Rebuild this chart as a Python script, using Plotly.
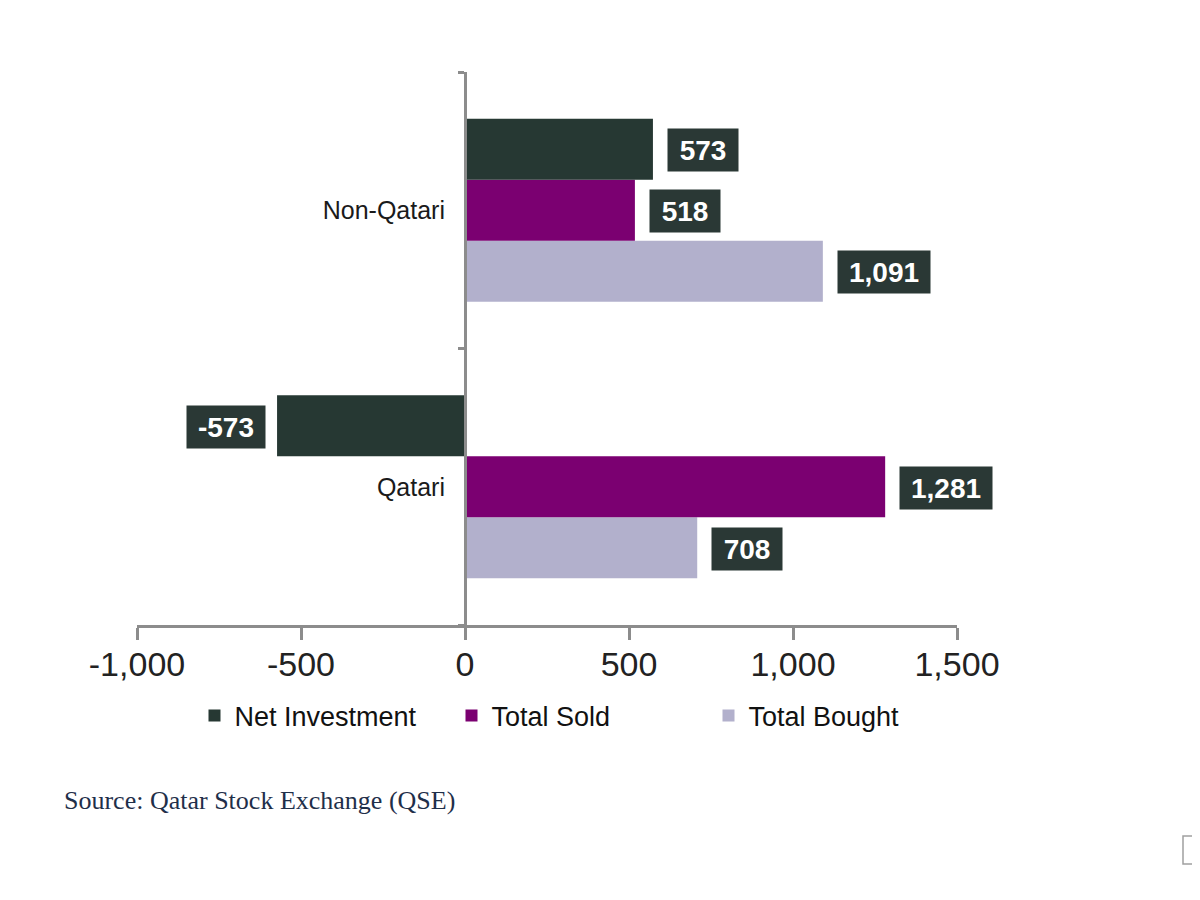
import plotly.graph_objects as go

# ---- data ----
categories = ["Qatari", "Non-Qatari"]
net_investment = [-573, 573]
total_sold = [1281, 518]
total_bought = [708, 1091]
x_tick_vals = [-1000, -500, 0, 500, 1000, 1500]
x_tick_labels = ["-1,000", "-500", "0", "500", "1,000", "1,500"]
source_text = "Source: Qatar Stock Exchange (QSE)"

# ---- style ----
C_NET = "#263833"
C_SOLD = "#7b0071"
C_BOUGHT = "#b2b0cc"
C_BOX = "#2a3835"
C_AXIS = "#8c8c8c"
W, H = 1200, 900
OFF = 8  # page body margin
X_RANGE = [-1000, 1500]
XDOM = [(137 - OFF) / W, (957 - OFF) / W]
YDOM = [1 - (625 - OFF) / H, 1 - (72 - OFF) / H]
BARGAP = 0.338

fig = go.Figure()
series = [
    ("Total Bought", total_bought, C_BOUGHT),
    ("Total Sold", total_sold, C_SOLD),
    ("Net Investment", net_investment, C_NET),
]
for name, vals, col in series:
    fig.add_trace(go.Bar(
        name=name, y=categories, x=vals, orientation="h",
        marker=dict(color=col, line=dict(width=0)),
        hoverinfo="skip",
    ))

# value labels (dark boxes)
bar_units = (1 - BARGAP) / 3
offsets = {"Total Bought": -bar_units, "Total Sold": 0.0, "Net Investment": bar_units}


def box_width(txt):
    d = sum(ch.isdigit() for ch in txt)
    return d * 14 + txt.count(",") * 8 + txt.count("-") * 8 + 22


for name, vals, col in series:
    for i, v in enumerate(vals):
        txt = f"{v:,}"
        fig.add_annotation(
            x=v, y=i + offsets[name], xref="x", yref="y",
            text=txt, showarrow=False,
            xanchor="left" if v >= 0 else "right",
            xshift=14 if v >= 0 else -11,
            yshift=-1,
            width=box_width(txt), height=36, align="center",
            bgcolor=C_BOX, borderpad=3,
            font=dict(family="Liberation Sans", size=28, color="white", weight="bold"),
        )

fig.add_annotation(
    x=(62 - OFF) / W, y=1 - (800 - OFF) / H, xref="paper", yref="paper",
    text=source_text, showarrow=False, xanchor="left", yanchor="middle",
    font=dict(family="Liberation Serif", size=26, color="#1f2f4a"),
)

# small box at bottom-right corner
fig.add_shape(type="rect", xref="paper", yref="paper",
              x0=(1183 - OFF) / W, x1=1.02, y0=1 - (864 - OFF) / H, y1=1 - (836 - OFF) / H,
              line=dict(color="#a0a0a0", width=1.5), fillcolor="rgba(0,0,0,0)")

ypos = XDOM[0] + (0 - X_RANGE[0]) / (X_RANGE[1] - X_RANGE[0]) * (XDOM[1] - XDOM[0])

fig.update_layout(
    width=W, height=H,
    margin=dict(l=0, r=0, t=0, b=0),
    paper_bgcolor="white", plot_bgcolor="white",
    barmode="group", bargap=BARGAP, bargroupgap=0,
    font=dict(family="Liberation Sans", color="#1a1a1a"),
    xaxis=dict(
        domain=XDOM, range=X_RANGE, tickvals=x_tick_vals, ticktext=x_tick_labels,
        showgrid=False, zeroline=False, showline=True, linecolor=C_AXIS, linewidth=3,
        ticks="outside", ticklen=12, tickwidth=3, tickcolor=C_AXIS,
        tickfont=dict(size=34, color="#222222"), automargin=False,
        ticklabelstandoff=-5,
    ),
    yaxis=dict(
        domain=YDOM, type="category", categoryorder="array", categoryarray=categories,
        range=[-0.5, 1.5], anchor="free", position=ypos,
        showgrid=False, zeroline=False, showline=True, linecolor=C_AXIS, linewidth=3,
        ticks="outside", tickson="boundaries", ticklen=6, tickwidth=3, tickcolor=C_AXIS,
        tickfont=dict(size=25, color="#1a1a1a"), automargin=False,
        ticklabelstandoff=14,
    ),
    legend=dict(
        orientation="h", traceorder="reversed",
        x=572 / W, xanchor="center", y=1 - (716 - OFF) / H, yanchor="middle",
        font=dict(size=27, color="#111111"),
        entrywidth=212, entrywidthmode="pixels",
        itemwidth=30, bgcolor="rgba(0,0,0,0)",
    ),
    showlegend=True,
)

fig.write_html("out.html")
